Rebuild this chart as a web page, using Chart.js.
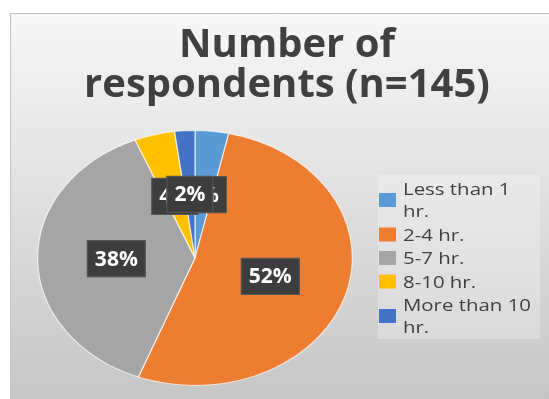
<!DOCTYPE html>
<html lang="en">
<head>
    <meta charset="UTF-8">
    <title>Number of respondents</title>
    <script src="https://cdn.jsdelivr.net/npm/chart.js"></script>
    <style>
        body { margin: 0; background: #fff; }
        canvas { display: block; }
    </style>
</head>
<body>
    <canvas id="hoursChart" width="549" height="399"></canvas>

    <script>
        // Survey answers (n=145)
        const titleLines = ['Number of', 'respondents (n=145)'];
        const categories = [['Less than 1', 'hr.'], ['2-4 hr.'], ['5-7 hr.'], ['8-10 hr.'], ['More than 10', 'hr.']];
        const respondents = [5, 76, 55, 6, 3];
        const sliceColors = ['#5B9BD5', '#ED7D31', '#A5A5A5', '#FFC000', '#4472C4'];

        const stretchX = 1.234; // pie is drawn as a wide ellipse
        const textColor = '#404040';

        function stretchedX(chart, x) {
            const cx = (chart.chartArea.left + chart.chartArea.right) / 2;
            return cx + (x - cx) * stretchX;
        }

        const decorPlugin = {
            id: 'decor',
            beforeDraw(chart) {
                const ctx = chart.ctx;
                ctx.save();
                ctx.fillStyle = '#fff';
                ctx.fillRect(0, 0, chart.width, chart.height);
                const grad = ctx.createLinearGradient(0, 13, 0, chart.height);
                grad.addColorStop(0, '#f7f7f7');
                grad.addColorStop(1, '#c6c6c6');
                ctx.fillStyle = grad;
                ctx.fillRect(10, 13, chart.width - 10, chart.height - 13);
                ctx.strokeStyle = '#c4c4c4';
                ctx.lineWidth = 1;
                ctx.beginPath();
                ctx.moveTo(10.5, chart.height);
                ctx.lineTo(10.5, 13.5);
                ctx.lineTo(chart.width, 13.5);
                ctx.stroke();
                ctx.restore();
            },
            beforeDatasetsDraw(chart) {
                const ctx = chart.ctx;
                const cx = (chart.chartArea.left + chart.chartArea.right) / 2;
                ctx.save();
                ctx.translate(cx, 0);
                ctx.scale(stretchX, 1);
                ctx.translate(-cx, 0);
            },
            afterDatasetsDraw(chart) {
                const ctx = chart.ctx;
                ctx.restore();

                // percentage boxes
                const values = chart.data.datasets[0].data;
                const total = values.reduce((a, b) => a + b, 0);
                ctx.save();
                ctx.font = 'bold 21px "Open Sans"';
                ctx.textAlign = 'center';
                ctx.textBaseline = 'middle';
                chart.getDatasetMeta(0).data.forEach((arc, i) => {
                    const pos = arc.tooltipPosition();
                    const x = stretchedX(chart, pos.x);
                    const y = pos.y;
                    const text = Math.round(values[i] / total * 100) + '%';
                    const w = ctx.measureText(text).width + 16;
                    const h = 37;
                    ctx.fillStyle = '#3d3d3d';
                    ctx.fillRect(x - w / 2, y - h / 2, w, h);
                    ctx.strokeStyle = '#5a5a5a';
                    ctx.strokeRect(x - w / 2 + 0.5, y - h / 2 + 0.5, w - 1, h - 1);
                    ctx.fillStyle = '#fff';
                    ctx.fillText(text, x, y + 1);
                });
                ctx.restore();
            },
            afterDraw(chart) {
                const ctx = chart.ctx;
                ctx.save();

                // title
                ctx.fillStyle = textColor;
                ctx.font = 'bold 40px "Open Sans"';
                ctx.textAlign = 'center';
                ctx.textBaseline = 'alphabetic';
                ctx.fillText(titleLines[0], 287, 57);
                ctx.fillText(titleLines[1], 287, 97);

                // legend
                ctx.fillStyle = 'rgba(255,255,255,0.25)';
                ctx.fillRect(378, 175, 162, 164);
                ctx.font = '17px "Open Sans"';
                ctx.textAlign = 'left';
                let y = 195;
                categories.forEach((lines, i) => {
                    const mid = y - 6 + (lines.length - 1) * 11;
                    ctx.fillStyle = sliceColors[i];
                    ctx.fillRect(379, mid - 7, 17, 14);
                    ctx.fillStyle = textColor;
                    lines.forEach((line, j) => {
                        ctx.save();
                        ctx.translate(403, y + j * 22);
                        ctx.scale(1.2, 1);
                        ctx.fillText(line, 0, 0);
                        ctx.restore();
                    });
                    y += (lines.length - 1) * 22 + 23.5;
                });
                ctx.restore();
            }
        };

        new Chart(document.getElementById('hoursChart'), {
            type: 'pie',
            data: {
                labels: categories.map(c => c.join(' ')),
                datasets: [{
                    data: respondents,
                    backgroundColor: sliceColors,
                    borderColor: 'rgba(255,255,255,0.7)',
                    borderWidth: 1,
                    clip: false
                }]
            },
            options: {
                responsive: false,
                animation: false,
                events: [],
                layout: {
                    padding: { left: 67, right: 226, top: 130, bottom: 13 }
                },
                plugins: {
                    legend: { display: false },
                    tooltip: { enabled: false }
                }
            },
            plugins: [decorPlugin]
        });
    </script>
</body>
</html>
